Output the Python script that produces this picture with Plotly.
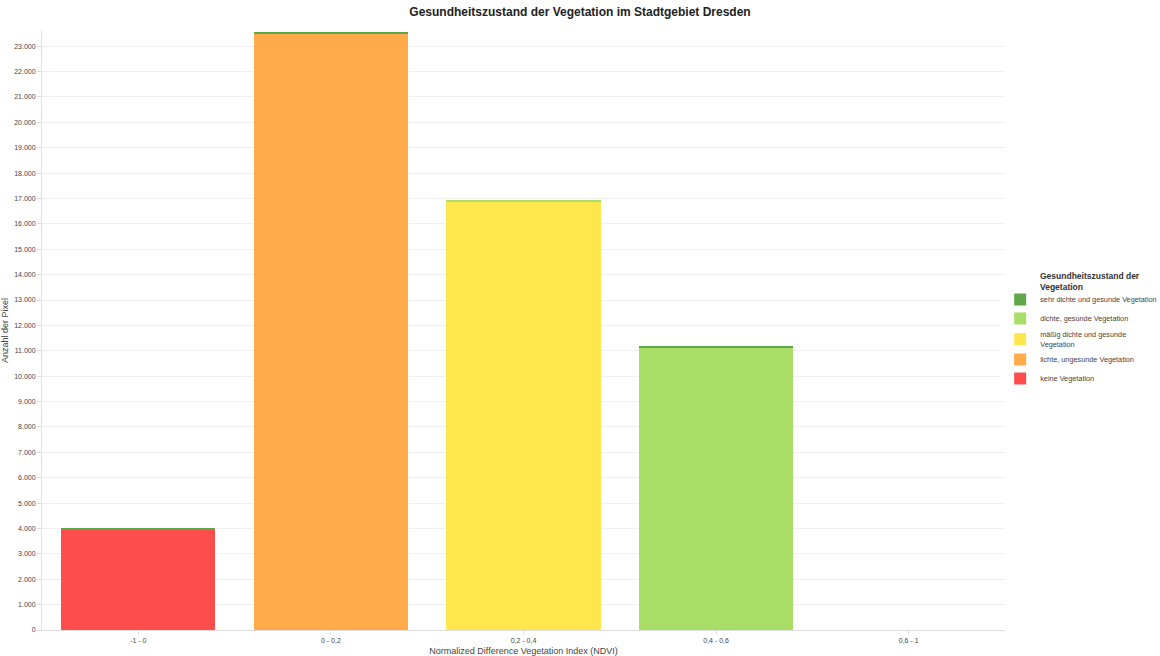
import plotly.graph_objects as go

categories = ["-1 - 0", "0 - 0,2", "0,2 - 0,4", "0,4 - 0,6", "0,6 - 1"]
keine = [3970, 0, 0, 0, 0]
lichte = [0, 23520, 0, 0, 0]
maessig = [0, 0, 16880, 0, 0]
dichte = [0, 0, 50, 11140, 0]
sehr_dichte = [50, 50, 0, 50, 0]

series = [
    ("keine Vegetation", keine, "#ff4d4d"),
    ("lichte, ungesunde Vegetation", lichte, "#ffaa4b"),
    ("mäßig dichte und gesunde<br>Vegetation", maessig, "#fee64f"),
    ("dichte, gesunde Vegetation", dichte, "#a8de68"),
    ("sehr dichte und gesunde Vegetation", sehr_dichte, "#5fa84a"),
]

fig = go.Figure()
for name, vals, col in series:
    fig.add_trace(go.Bar(x=categories, y=vals, name=name,
                         marker=dict(color=col, line=dict(width=0))))

fig.add_annotation(
    text="<b>Gesundheitszustand der<br>Vegetation</b>",
    xref="paper", yref="paper", x=1.034, y=0.602, xanchor="left", yanchor="top",
    align="left", showarrow=False, font=dict(size=8.5, color="#333"),
)

fig.update_layout(
    width=1160, height=656,
    barmode="stack", bargap=0.2,
    separators=",.",
    font=dict(family="Liberation Sans, Arial, sans-serif", color="#444"),
    paper_bgcolor="white", plot_bgcolor="white",
    margin=dict(l=42, r=155, t=31, b=26, autoexpand=False),
    title=dict(text="<b>Gesundheitszustand der Vegetation im Stadtgebiet Dresden</b>",
               x=0.5, xanchor="center", y=0.988, yanchor="top",
               font=dict(size=12, color="#222")),
    legend=dict(
        traceorder="reversed", x=0.995, xanchor="left", y=0.576, yanchor="top",
        font=dict(size=7.3, color="#444"), itemwidth=30, tracegroupgap=4,
    ),
    xaxis=dict(
        title=dict(text="Normalized Difference Vegetation Index (NDVI)", font=dict(size=9, color="#444"), standoff=6),
        tickfont=dict(size=7, color="#444"), showline=True, linecolor="#ddd",
        ticks="outside", ticklen=4, tickcolor="#ddd", showgrid=False,
    ),
    yaxis=dict(
        title=dict(text="Anzahl der Pixel", font=dict(size=9, color="#444"), standoff=4),
        range=[0, 23600], dtick=1000, tickformat=",d",
        tickfont=dict(size=7, color="#444"), showline=True, linecolor="#ddd",
        ticks="outside", ticklen=4, tickcolor="#ddd",
        gridcolor="#f0f0f0", zeroline=False,
    ),
)

fig.write_html("out.html")
